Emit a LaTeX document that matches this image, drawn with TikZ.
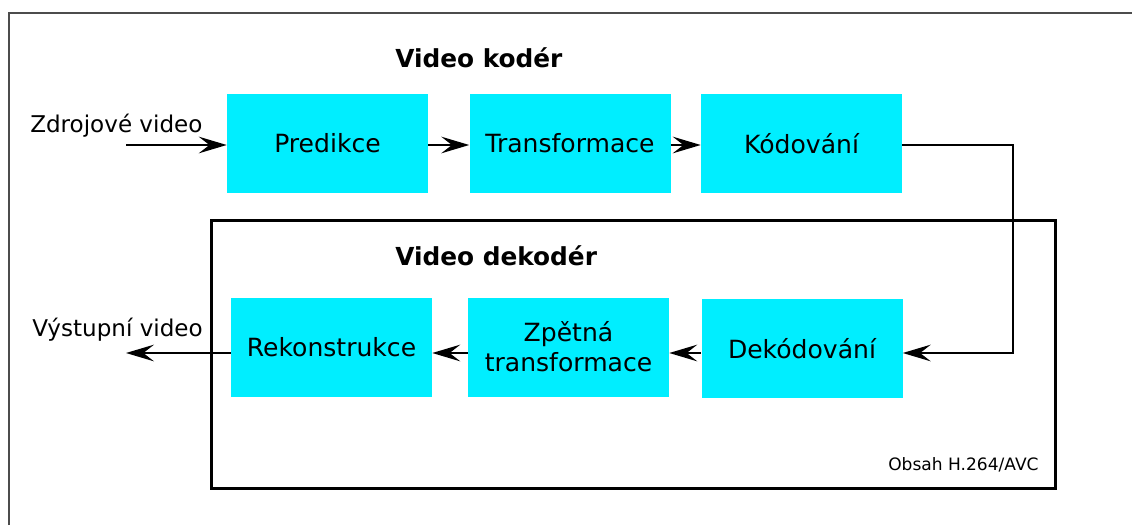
\documentclass[tikz,border=0pt]{standalone}
\usepackage{fontspec}
\setmainfont{DejaVu Sans}
\usetikzlibrary{arrows.meta}
\definecolor{boxcyan}{RGB}{0,238,255}

\begin{document}
\begin{tikzpicture}[x=0.75pt, y=-0.75pt,
    block/.style={fill=boxcyan, minimum width=150.75pt, minimum height=74.25pt,
        inner sep=0pt, align=center, font=\fontsize{18.8}{22.5}\selectfont},
    lbl/.style={anchor=base west, inner sep=0pt, font=\fontsize{17.3}{20}\selectfont},
    title/.style={anchor=base west, inner sep=0pt, font=\fontsize{18.6}{22}\selectfont\bfseries},
    arr/.style={line width=1.2pt, -{Stealth[length=21pt, width=12.5pt, inset=8pt]}}]
    \useasboundingbox (0,0) rectangle (1132,525);
    \draw[black!70, line width=1.3pt] (9,525) |- (1132,13);
    \draw[line width=2.25pt] (211,220) rectangle (1055,488);

    \node[block] (pred) at (327.5,143.5) {Predikce};
    \node[block] (trans) at (570,143.5) {Transformace};
    \node[block] (kod) at (801.5,143.5) {Kódování};
    \node[block] (dek) at (802,348.5) {Dekódování};
    \node[block] (zpet) at (568.5,347) {Zpětná\\transformace};
    \node[block] (rek) at (331.5,347) {Rekonstrukce};

    \node[title] (enc) at (395,67) {Video kodér};
    \node[title] (dec) at (395,265) {Video dekodér};
    \node[lbl] (src) at (30,132) {Zdrojové video};
    \node[lbl] (dst) at (32,336) {Výstupní video};
    \node[lbl, font=\fontsize{12.8}{15}\selectfont] (note) at (888,470) {Obsah H.264/AVC};

    \coordinate (in) at (126,145);
    \coordinate (out) at (126,353);

    \draw[arr] (in) -- (pred.west |- in);
    \draw[arr] (pred.east |- in) -- (trans.west |- in);
    \draw[arr] (trans.east |- in) -- (kod.west |- in);
    \draw[arr] (kod.east |- in) -- ++(111,0) |- (dek.east |- out);
    \draw[arr] (dek.west |- out) -- (zpet.east |- out);
    \draw[arr] (zpet.west |- out) -- (rek.east |- out);
    \draw[arr] (rek.west |- out) -- (out);
\end{tikzpicture}
\end{document}
